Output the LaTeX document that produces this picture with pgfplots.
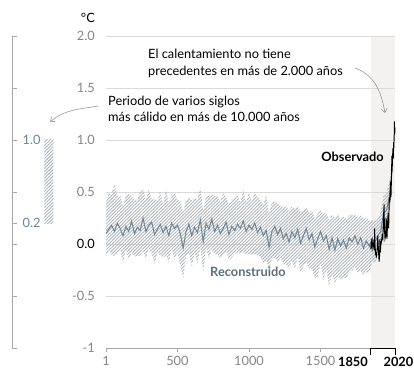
\documentclass[border=0pt]{standalone}
\usepackage{fontspec}
\setmainfont{Lato}
\usepackage{pgfplots}
\usepackage{pgfplotstable}
\pgfplotsset{compat=1.18}
\usepgfplotslibrary{fillbetween}
\usetikzlibrary{patterns.meta,arrows.meta}
\definecolor{tickgray}{HTML}{858585}
\definecolor{gridgray}{HTML}{DADADA}
\definecolor{axgray}{HTML}{A8A8A8}
\definecolor{recline}{HTML}{6D8496}
\definecolor{rectext}{HTML}{5D6F7D}
\definecolor{hatch}{HTML}{B0B6BB}
\definecolor{shade}{HTML}{F3F2F1}
\definecolor{arrgray}{HTML}{9A9A9A}
\newcommand\fs{\fontsize{12.8}{15}\selectfont}

\pgfplotstableread{
year mid hi lo
1 0.10 0.40 -0.12
20 0.14 0.48 -0.06
40 0.18 0.48 -0.10
60 0.12 0.58 -0.12
80 0.20 0.46 -0.10
100 0.15 0.47 -0.05
120 0.08 0.36 -0.18
140 0.17 0.47 -0.05
160 0.12 0.48 -0.15
180 0.22 0.46 -0.08
200 0.10 0.42 -0.12
220 0.16 0.42 -0.12
240 0.13 0.51 -0.11
260 0.25 0.53 -0.07
280 0.12 0.42 -0.14
300 0.18 0.52 -0.04
320 0.21 0.43 -0.09
340 0.09 0.43 -0.19
360 0.14 0.42 -0.08
380 0.19 0.51 -0.11
400 0.11 0.37 -0.13
420 0.17 0.53 -0.11
440 0.08 0.38 -0.18
460 0.20 0.48 -0.04
480 0.15 0.49 -0.15
500 0.18 0.42 -0.08
520 0.10 0.42 -0.20
540 -0.04 0.30 -0.33
560 0.12 0.42 -0.12
580 0.19 0.45 -0.09
600 0.08 0.42 -0.22
620 0.16 0.44 -0.08
640 0.11 0.43 -0.19
660 0.23 0.54 -0.03
680 0.02 0.32 -0.26
700 0.20 0.46 -0.04
720 0.14 0.46 -0.14
740 0.24 0.48 -0.06
760 0.12 0.46 -0.10
780 0.18 0.46 -0.10
800 0.10 0.40 -0.14
820 0.15 0.49 -0.11
840 0.21 0.45 -0.07
860 0.09 0.39 -0.15
880 0.17 0.43 -0.13
900 0.13 0.45 -0.09
920 0.19 0.47 -0.09
940 0.15 0.39 -0.09
960 0.22 0.52 -0.08
980 0.12 0.40 -0.10
1000 0.18 0.50 -0.10
1020 0.14 0.40 -0.10
1040 0.20 0.50 -0.10
1060 0.11 0.45 -0.11
1080 0.16 0.42 -0.12
1100 0.08 0.38 -0.18
1120 0.13 0.47 -0.15
1140 -0.03 0.29 -0.25
1160 0.12 0.40 -0.14
1180 0.17 0.41 -0.13
1200 0.09 0.39 -0.17
1220 0.15 0.37 -0.13
1240 0.05 0.35 -0.19
1260 0.10 0.36 -0.20
1280 0.02 0.32 -0.24
1300 0.12 0.36 -0.16
1320 0.06 0.34 -0.24
1340 0.14 0.36 -0.12
1360 0.01 0.31 -0.27
1380 0.08 0.32 -0.22
1400 0.15 0.35 -0.17
1420 0.04 0.30 -0.24
1440 0.10 0.32 -0.24
1460 -0.03 0.25 -0.33
1480 0.05 0.29 -0.31
1500 0.12 0.32 -0.18
1520 0.03 0.29 -0.35
1540 0.08 0.30 -0.24
1560 -0.05 0.23 -0.41
1580 0.06 0.28 -0.28
1600 -0.06 0.24 -0.38
1620 0.05 0.29 -0.31
1640 -0.02 0.24 -0.34
1660 0.04 0.26 -0.32
1680 -0.04 0.24 -0.34
1700 0.06 0.28 -0.26
1720 0.02 0.28 -0.26
1740 0.08 0.28 -0.22
1760 0.00 0.26 -0.28
1780 0.06 0.28 -0.26
1800 -0.04 0.24 -0.30
1820 0.03 0.25 -0.27
1840 -0.02 0.22 -0.28
1860 0.05 0.23 -0.17
1880 0.02 0.22 -0.18
1900 0.08 0.24 -0.12
1920 0.12 0.30 -0.06
1940 0.30 0.46 0.12
1960 0.32 0.48 0.16
1980 0.45 0.60 0.30
2000 0.70 0.82 0.58
}\recon

\pgfplotstableread{
year t
1850 -0.05
1855 0.02
1860 -0.04
1865 0.03
1870 -0.02
1875 -0.06
1878 0.15
1880 0.00
1885 -0.10
1890 -0.12
1895 -0.06
1900 0.08
1905 -0.08
1909 -0.17
1912 -0.12
1915 0.05
1918 -0.08
1920 -0.02
1925 0.02
1930 0.08
1935 0.05
1940 0.28
1944 0.38
1946 0.15
1950 0.05
1955 0.08
1958 0.25
1960 0.22
1964 0.05
1968 0.20
1972 0.30
1976 0.15
1980 0.45
1985 0.40
1988 0.60
1992 0.45
1995 0.62
1998 0.85
2000 0.70
2005 0.92
2008 0.82
2010 0.98
2012 0.92
2015 1.08
2016 1.18
2018 1.05
2020 1.12
}\obs

\begin{document}
\begin{tikzpicture}[x=1pt,y=1pt]

% left scale
\begin{axis}[
  at={(12pt,21pt)}, anchor=south west,
  scale only axis, width=45pt, height=312pt,
  xmin=0, xmax=45, ymin=-1, ymax=2,
  axis x line=none, axis y line*=left,
  y axis line style={axgray, line width=0.6pt},
  ytick={-1,-0.5,0,0.2,0.5,1,1.5,2},
  yticklabels={,,,0.2,,1.0,,},
  tick align=inside,
  major tick length=5pt,
  tick style={axgray, line width=0.6pt},
  yticklabel style={anchor=west, inner sep=0pt, xshift=10.5pt, font=\fs, text=recline},
  clip=false,
]
\addplot[draw=none, pattern={Lines[angle=45,distance=2.3pt,line width=0.9pt]}, pattern color=hatch]
  coordinates {(32.3,0.2) (41.3,0.2) (41.3,1.0) (32.3,1.0)} -- cycle;
\end{axis}

% main axis
\begin{axis}[
  at={(106pt,21pt)}, anchor=south west,
  scale only axis, width=289pt, height=312pt,
  xmin=1, xmax=2020, ymin=-1, ymax=2,
  set layers,
  axis x line*=bottom, axis y line*=left,
  y axis line style={draw=none},
  x axis line style={axgray, line width=0.6pt},
  ytick={-1,-0.5,0,0.5,1,1.5,2},
  yticklabels={-1,-0.5,\textcolor{black}{0.0},0.5,1.0,1.5,2.0},
  ytick style={draw=none},
  ymajorgrids, grid style={gridgray, line width=0.6pt},
  xtick={1,500,1000,1500},
  xticklabels={1,500,1000,1500},
  tick align=outside,
  major tick length=4pt,
  xtick style={axgray, line width=0.6pt},
  yticklabel style={anchor=east, inner sep=0pt, xshift=-7pt, font=\fs, text=tickgray},
  xticklabel style={anchor=north, inner sep=0pt, yshift=-4.5pt, font=\fs, text=tickgray},
  clip=false,
]
\addplot[fill=shade, draw=none, on layer=axis background]
  coordinates {(1850,-1) (2020,-1) (2020,2) (1850,2)} -- cycle;

\addplot[name path=hi, draw=none, forget plot] table[x=year, y=hi] {\recon};
\addplot[name path=lo, draw=none, forget plot] table[x=year, y=lo] {\recon};
\addplot[draw=none, pattern={Lines[angle=45,distance=2.3pt,line width=0.9pt]}, pattern color=hatch]
  fill between[of=hi and lo];
\addplot[recline, line width=1pt] table[x=year, y=mid] {\recon};
\addplot[black, line width=0.9pt] table[x=year, y=t] {\obs};

\addplot[black, line width=1pt] coordinates {(1850,-1.07) (1850,-1) (2020,-1) (2020,-1.07)};
\end{axis}

% tick labels for the recent period
\node[anchor=north east, inner sep=0pt, font=\fs\bfseries] at (368,12.5) {1850};
\node[anchor=north east, inner sep=0pt, font=\fs\bfseries] at (413.5,12.5) {2020};

% unit
\node[anchor=east, inner sep=0pt, font=\fs, text=black] at (95,351) {°C};

% annotations
\node[anchor=west, inner sep=0pt, font=\fs] at (148,315) {El calentamiento no tiene};
\node[anchor=west, inner sep=0pt, font=\fs] at (148,297) {precedentes en más de 2.000 años};
\node[anchor=west, inner sep=0pt, font=\fs] at (108,267) {Periodo de varios siglos};
\node[anchor=west, inner sep=0pt, font=\fs] at (108,252) {más cálido en más de 10.000 años};

\draw[arrgray, line width=0.6pt, -{Straight Barb[length=4pt,width=6pt]}] (98,263) to[out=190,in=40] (50,247);
\draw[arrgray, line width=0.6pt, -{Straight Barb[length=4pt,width=6pt]}] (355,301) to[out=-20,in=100] (385,256);

\node[anchor=east, inner sep=0pt, font=\fs\bfseries] at (384,212) {Observado};
\node[inner sep=0pt, font=\fs\bfseries, text=rectext] at (248,97) {Reconstruido};

\pgfresetboundingbox
\useasboundingbox (0,0) rectangle (414,369);
\end{tikzpicture}
\end{document}
